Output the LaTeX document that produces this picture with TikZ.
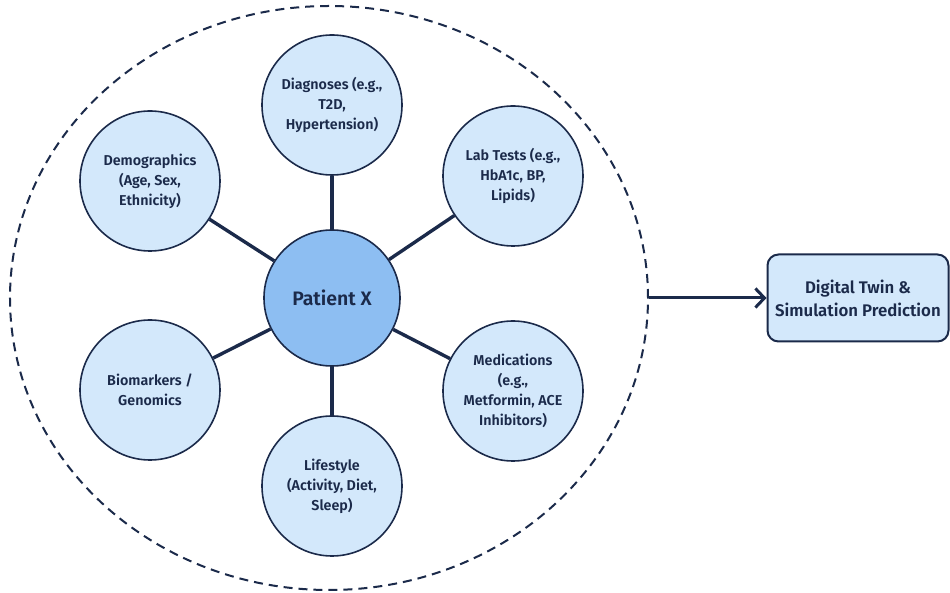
\documentclass[tikz,border=0pt]{standalone}
\usepackage{fontspec}
\setmainfont{Fira Sans}[BoldFont={Fira Sans SemiBold}]
\usetikzlibrary{positioning,arrows.meta,shapes.geometric}
\definecolor{navy}{HTML}{1B2A4A}
\definecolor{paleblue}{HTML}{D3E8FB}
\definecolor{midblue}{HTML}{8DBEF2}

\begin{document}
\begin{tikzpicture}[on grid, text=navy, font=\bfseries\fontsize{14.3}{20}\selectfont,
    factor/.style={circle, draw=navy, line width=1.6pt, fill=paleblue, minimum size=140pt, inner sep=0pt, align=center},
    link/.style={draw=navy, line width=3.4pt}]
   \useasboundingbox (-332pt,298pt) rectangle (618pt,-295pt);
   \node[ellipse, draw=navy, line width=2pt, dash pattern=on 9pt off 6pt, minimum width=638pt, minimum height=584pt, xshift=-3pt] (scope) {};
   \node[factor, fill=midblue, minimum size=136pt, font=\bfseries\fontsize{19.5}{22}\selectfont] (px) {Patient X};
   \node[factor] (diag) [above=193pt of px] {Diagnoses (e.g.,\\T2D,\\Hypertension)};
   \node[factor] (lab) [above right=122pt and 181pt of px] {Lab Tests (e.g.,\\HbA1c, BP,\\Lipids)};
   \node[factor] (meds) [below right=93pt and 181pt of px] {Medications\\(e.g.,\\Metformin, ACE\\Inhibitors)};
   \node[factor] (life) [below=188pt of px] {Lifestyle\\(Activity, Diet,\\Sleep)};
   \node[factor] (bio) [below left=92pt and 182pt of px] {Biomarkers /\\Genomics};
   \node[factor] (demo) [above left=117pt and 182pt of px] {Demographics\\(Age, Sex,\\Ethnicity)};
   \node[draw=navy, fill=paleblue, line width=2pt, rounded corners=11pt, minimum width=181pt, minimum height=87pt, align=center, font=\bfseries\fontsize{16.8}{23}\selectfont] (twin) [right=526pt of px] {Digital Twin \&\\Simulation Prediction};
    \path[link]
    (px) edge (diag)
         edge (lab)
         edge (meds)
         edge (life)
         edge (bio)
         edge (demo);
    \draw[navy, line width=3pt, -{Straight Barb[length=9pt,width=19pt,line width=3pt]}] (scope.east) -- (twin.west);
\end{tikzpicture}
\end{document}
